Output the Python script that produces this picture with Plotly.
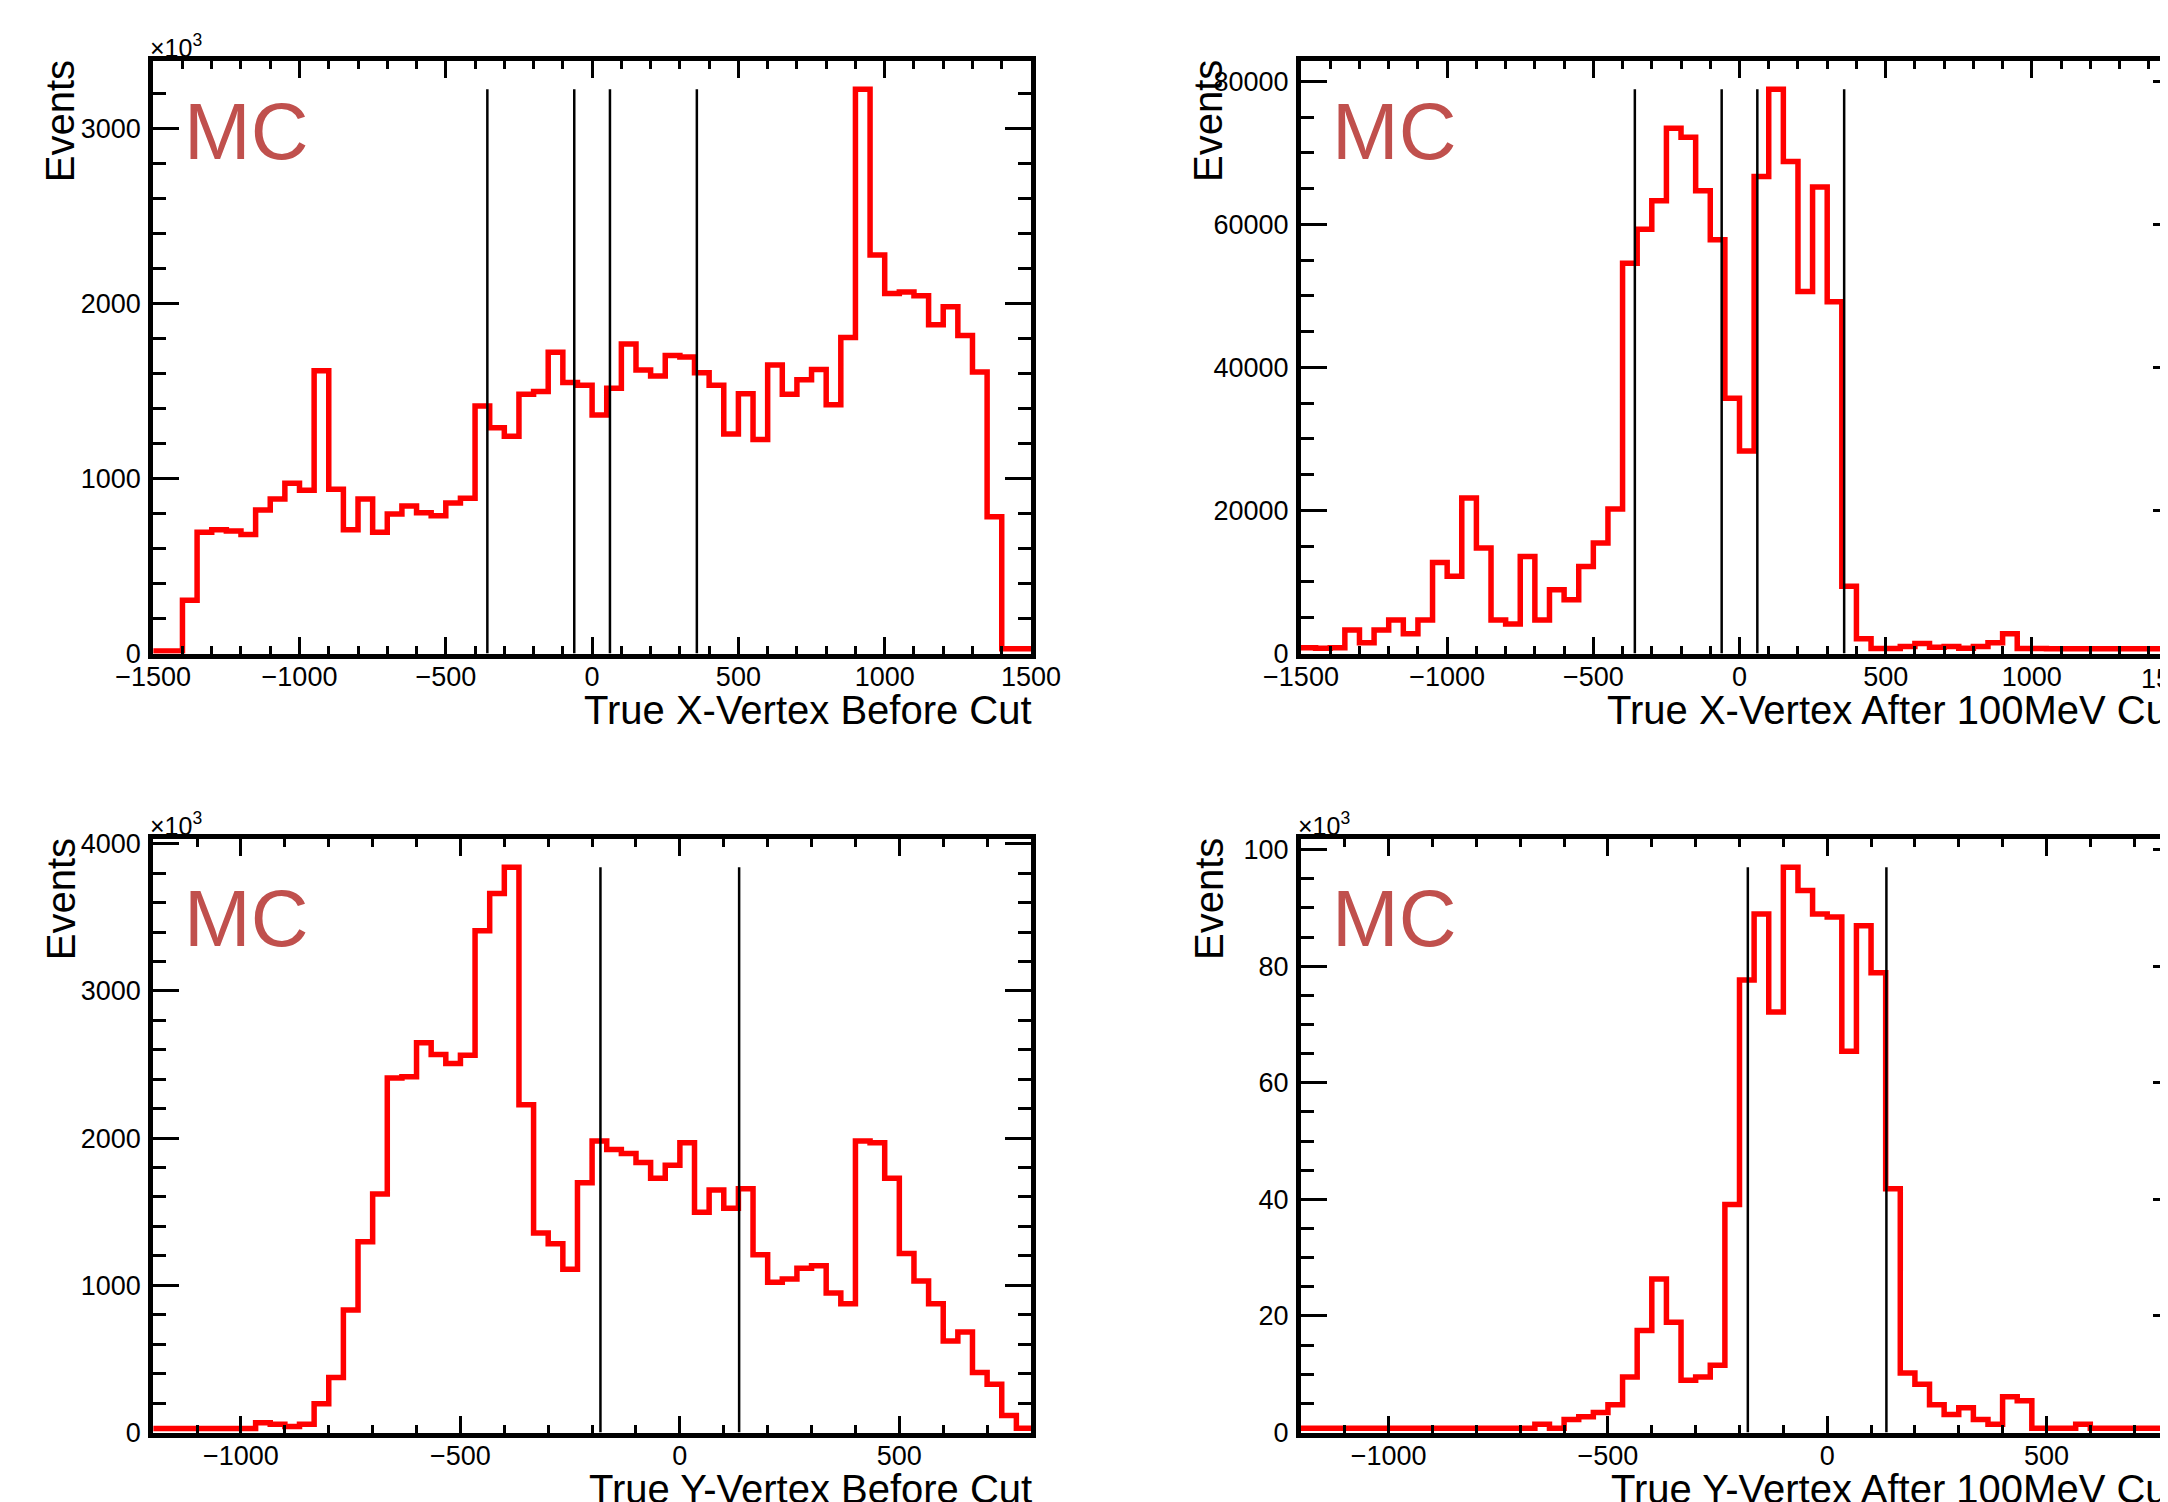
import plotly.graph_objects as go

# ---------------- data ----------------
# Top-left: True X-Vertex Before Cut, 60 bins on [-1500, 1500], in units of 10^3 events
x_before_range = [-1500, 1500]
x_before_counts_k = [15, 15, 305, 693, 708, 700, 680, 821, 883, 973,
                     933, 1617, 939, 708, 883, 693, 798, 843, 805, 787,
                     861, 888, 1415, 1291, 1242, 1482, 1498, 1722, 1549, 1534,
                     1363, 1516, 1769, 1621, 1587, 1704, 1695, 1605, 1534, 1255,
                     1485, 1224, 1650, 1482, 1565, 1623, 1422, 1807, 3226, 2278,
                     2058, 2067, 2045, 1879, 1982, 1818, 1610, 782, 27, 27]

# Top-right: True X-Vertex After 100MeV Cut, 60 bins on [-1500, 1500], events
x_after_range = [-1500, 1500]
x_after_counts = [800, 750, 820, 3300, 1515, 3300, 4690, 2775, 4690, 12730,
                  10800, 21740, 14750, 4690, 4140, 13550, 4690, 8900, 7520, 12180,
                  15460, 20210, 54560, 59320, 63320, 73440, 72180, 64690, 57850, 35700,
                  28310, 66700, 78900, 68780, 50630, 65220, 49200, 9420, 2060, 690,
                  690, 970, 1410, 860, 970, 750, 970, 1515, 2775, 690,
                  690, 650, 650, 650, 650, 650, 650, 650, 650, 650]

# Bottom-left: True Y-Vertex Before Cut, 60 bins on [-1200, 800], in units of 10^3 events
y_before_range = [-1200, 800]
y_before_counts_k = [27, 27, 27, 27, 27, 27, 27, 67, 56, 40,
                     56, 195, 373, 832, 1296, 1621, 2408, 2416, 2648, 2568,
                     2507, 2563, 3408, 3662, 3840, 2227, 1355, 1283, 1109, 1696,
                     1981, 1923, 1896, 1835, 1728, 1816, 1968, 1496, 1648, 1523,
                     1656, 1208, 1021, 1043, 1115, 1133, 947, 875, 1981, 1968,
                     1728, 1216, 1029, 875, 621, 683, 408, 328, 115, 29]

# Bottom-right: True Y-Vertex After 100MeV Cut, 60 bins on [-1200, 800], in units of 10^3 events
y_after_range = [-1200, 800]
y_after_counts_k = [0.74, 0.74, 0.74, 0.74, 0.74, 0.74, 0.74, 0.74, 0.74, 0.74,
                    0.74, 0.74, 0.74, 0.74, 0.74, 0.74, 1.41, 0.74, 2.22, 2.69,
                    3.43, 4.78, 9.50, 17.51, 26.33, 18.92, 8.96, 9.50, 11.52, 39.13,
                    77.64, 88.95, 72.12, 96.97, 93.0, 88.95, 88.42, 65.39, 86.94, 78.86,
                    41.82, 10.2, 8.28, 4.78, 3.10, 4.24, 2.22, 1.41, 6.13, 5.45,
                    0.74, 0.74, 0.74, 1.41, 0.74, 0.74, 0.74, 0.74, 0.74, 0.74]

# cut positions drawn as vertical lines
x_cuts = [-358, -61, 61, 358]
y_cuts = [-181, 135]

# texts
label_mc = "MC"
ytitle = "Events"
xtitles = ["True X-Vertex Before Cut", "True X-Vertex After 100MeV Cut",
           "True Y-Vertex Before Cut", "True Y-Vertex After 100MeV Cut"]
exp_label = "×10<sup>3</sup>"

# ---------------- layout helpers ----------------
# the page body has an 8 px margin, so the figure is 8 px smaller and shifted
OFF = 8
VW, VH = 2168, 1502
W, H = VW - OFF, VH - OFF
FONT = "Liberation Sans, Arial, Helvetica, sans-serif"
RED = "#ff0000"
MC_COLOR = "#c0504d"


def fx(p):
    return (p - OFF) / W


def fy(p):
    return 1 - (p - OFF) / H


def step_xy(counts, rng):
    n = len(counts)
    w = (rng[1] - rng[0]) / n
    xs = [rng[0] + i * w for i in range(n + 1)]
    ys = list(counts) + [counts[-1]]
    return xs, ys


fig = go.Figure()

panels = [
    (x_before_counts_k, x_before_range, x_cuts, "x", "y"),
    (x_after_counts, x_after_range, x_cuts, "x2", "y2"),
    (y_before_counts_k, y_before_range, y_cuts, "x3", "y3"),
    (y_after_counts_k, y_after_range, y_cuts, "x4", "y4"),
]

for counts, rng, cuts, xa, ya in panels:
    xs, ys = step_xy(counts, rng)
    fig.add_trace(go.Scatter(x=xs, y=ys, mode="lines", line=dict(color=RED, width=5.5, shape="hv"),
                             xaxis=xa, yaxis=ya, showlegend=False, hoverinfo="skip"))
    top = max(counts)
    for c in cuts:
        fig.add_trace(go.Scatter(x=[c, c], y=[0, top], mode="lines", line=dict(color="black", width=2.5),
                                 xaxis=xa, yaxis=ya, showlegend=False, hoverinfo="skip"))

# dummy traces so the right-side tick axes are drawn
fig.add_trace(go.Scatter(x=[None], y=[None], xaxis="x2", yaxis="y5", showlegend=False))
fig.add_trace(go.Scatter(x=[None], y=[None], xaxis="x4", yaxis="y6", showlegend=False))

tickfont = dict(family=FONT, size=27, color="black")


def xaxis_cfg(domain, rng, anchor):
    return dict(domain=domain, range=rng, anchor=anchor, showgrid=False, zeroline=False,
                showline=True, linewidth=5, linecolor="black", mirror="ticks",
                ticks="inside", ticklen=17, tickwidth=2.5, tickcolor="black",
                tick0=0, dtick=500, tickfont=tickfont, tickformat="d", automargin=False,
                minor=dict(ticks="inside", ticklen=8, tickwidth=2.5, tickcolor="black", dtick=100),
                ticklabelstandoff=-5, fixedrange=True)


def yaxis_cfg(domain, top, anchor, dtick, mdtick, mirror):
    return dict(domain=domain, range=[0, top], anchor=anchor, showgrid=False, zeroline=False,
                showline=True, linewidth=5, linecolor="black", mirror=mirror,
                ticks="inside", ticklen=26, tickwidth=2.5, tickcolor="black",
                tick0=0, dtick=dtick, tickfont=tickfont, tickformat="d", automargin=False,
                minor=dict(ticks="inside", ticklen=13, tickwidth=2.5, tickcolor="black", dtick=mdtick),
                ticklabelstandoff=2, fixedrange=True)


left_dom = [fx(153.2), fx(1031)]
right_dom = [fx(1301), 1.0]
top_dom = [fy(653.5), fy(61)]
bot_dom = [fy(1432.5), fy(839)]

top1 = 1.05 * max(x_before_counts_k)
top2 = 1.05 * max(x_after_counts)
top3 = 1.05 * max(y_before_counts_k)
top4 = 1.05 * max(y_after_counts_k)

# visible part of the right-hand panels (the canvas cuts them at the right edge)
vis = (VW - 1301) / (2178 - 1301)
x2_range = [x_after_range[0], x_after_range[0] + vis * (x_after_range[1] - x_after_range[0])]
x4_range = [y_after_range[0], y_after_range[0] + vis * (y_after_range[1] - y_after_range[0])]


def right_ticks(over, top, dtick, mdtick):
    return dict(overlaying=over, anchor="free", position=1, side="right", range=[0, top],
                showgrid=False, zeroline=False, showline=False, showticklabels=False,
                ticks="inside", ticklen=15, tickwidth=2.5, tickcolor="black", tick0=0, dtick=dtick,
                minor=dict(ticks="inside", ticklen=3, tickwidth=2.5, tickcolor="black", dtick=mdtick),
                automargin=False, fixedrange=True)


fig.update_layout(
    template="none",
    width=W, height=H, autosize=False,
    margin=dict(l=0, r=0, t=0, b=0, pad=0),
    paper_bgcolor="white", plot_bgcolor="white",
    font=dict(family=FONT, color="black"),
    xaxis=xaxis_cfg(left_dom, x_before_range, "y"),
    yaxis=yaxis_cfg(top_dom, top1, "x", 1000, 200, "ticks"),
    xaxis2=xaxis_cfg(right_dom, x2_range, "y2"),
    yaxis2=yaxis_cfg(top_dom, top2, "x2", 20000, 5000, False),
    xaxis3=xaxis_cfg(left_dom, y_before_range, "y3"),
    yaxis3=yaxis_cfg(bot_dom, top3, "x3", 1000, 200, "ticks"),
    xaxis4=xaxis_cfg(right_dom, x4_range, "y4"),
    yaxis4=yaxis_cfg(bot_dom, top4, "x4", 20, 5, False),
    yaxis5=right_ticks("y2", top2, 20000, 5000),
    yaxis6=right_ticks("y4", top4, 20, 5),
    showlegend=False,
)

ann = []
# panel frame positions (pixels in the page): left, right, top, bottom
frames = [(150.7, 1033.5, 58.5, 656), (1298.5, 2180.5, 58.5, 656),
          (150.7, 1033.5, 836.5, 1435), (1298.5, 2180.5, 836.5, 1435)]
base = dict(xref="paper", yref="paper", showarrow=False)
for k, (l, r, t, b) in enumerate(frames):
    # MC label
    ann.append(dict(base, text=label_mc, x=fx(l + 31), y=fy(t + 27 + (8 if k >= 2 else 0)),
                    xanchor="left", yanchor="top",
                    font=dict(family=FONT, size=80, color=MC_COLOR)))
    # y title
    ann.append(dict(base, text=ytitle, x=fx(l - 90), y=fy(t), textangle=-90,
                    xanchor="center", yanchor="top",
                    font=dict(family=FONT, size=40, color="black")))
    # x title
    ann.append(dict(base, text=xtitles[k], x=fx(r), y=fy(b + 30),
                    xanchor="right", yanchor="top",
                    font=dict(family=FONT, size=40, color="black")))
    if k != 1:
        ann.append(dict(base, text=exp_label, x=fx(l - 3), y=fy(t + 5.5),
                        xanchor="left", yanchor="bottom",
                        font=dict(family=FONT, size=25, color="black")))

# tick label at the clipped right end of the top-right panel
ann.append(dict(base, text=str(x_after_range[1]), x=fx(2171), y=fy(662),
                xanchor="center", yanchor="top",
                font=dict(family=FONT, size=27, color="black")))

fig.update_layout(annotations=ann)

fig.write_html("out.html")
